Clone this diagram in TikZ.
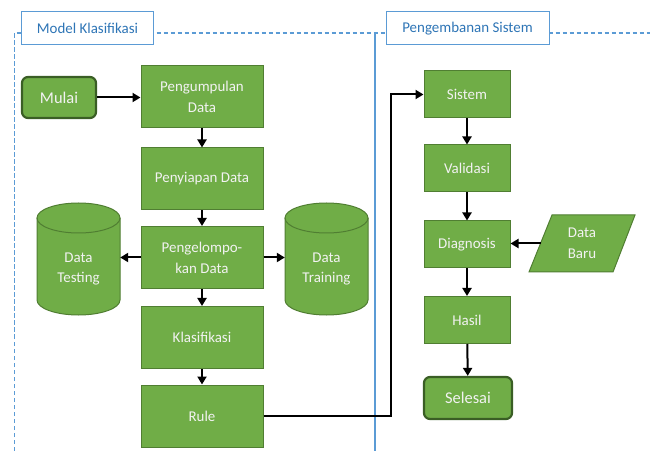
\documentclass[tikz,border=0pt]{standalone}
\usepackage{fontspec}
\setmainfont{Carlito}
\usetikzlibrary{arrows.meta}
\definecolor{boxfill}{HTML}{70AD47}
\definecolor{boxborder}{HTML}{507E32}
\definecolor{termborder}{HTML}{3A5E25}
\definecolor{boxtext}{HTML}{F2F2F2}
\definecolor{frameblue}{HTML}{5B9BD5}
\definecolor{labelblue}{HTML}{2E75B6}
\newcommand{\nodefont}{\fontsize{15}{21}\selectfont}
\newcommand{\termfont}{\fontsize{16.5}{21}\selectfont}
\tikzset{
  stepbox/.style={draw=boxborder, fill=boxfill, line width=1bp, text=boxtext, font=\nodefont,
    align=center, inner sep=0pt},
  leftbox/.style={stepbox, minimum width=122bp, minimum height=62bp},
  rightbox/.style={stepbox, minimum width=86bp, minimum height=47bp},
  term/.style={stepbox, draw=termborder, line width=2.2bp, rounded corners=6bp, font=\termfont},
  arr/.style={-{Triangle[length=8bp,width=9bp]}, line width=2bp, black},
  dashframe/.style={draw=frameblue, line width=1.5bp, dash pattern=on 4.5bp off 2.5bp},
  solidframe/.style={draw=frameblue, line width=1.5bp},
  labelbox/.style={draw=frameblue, line width=1bp, fill=white, text=labelblue, font=\nodefont,
    minimum height=33bp, inner sep=0pt},
  cylfill/.style={fill=boxfill, draw=boxborder, line width=1bp},
  cyltext/.style={text=boxtext, font=\nodefont, align=center, inner sep=0pt},
  holder/.style={inner sep=0pt, minimum width=83bp, minimum height=112bp}
}
\begin{document}
\begin{tikzpicture}[x=1bp,y=1bp]
\useasboundingbox (0,0) rectangle (650,-451);
% frame
\coordinate (ftl) at (14.5,-33);
\coordinate (fbl) at (14.5,-451);
\coordinate (ftr) at (650,-33);
\coordinate (mtop) at (375,-33);
\coordinate (mbot) at (375,-451);
\draw[dashframe] (fbl) -- (ftl) -- (ftr);
\draw[solidframe] (mtop) -- (mbot);
\node[labelbox, minimum width=131bp] (lm) at (87.5,-28.5) {Model Klasifikasi};
\node[labelbox, minimum width=163bp] (lp) at (467.5,-28.5) {Pengembanan Sistem};

% left column
\node[term, minimum width=74bp, minimum height=41bp] (mulai) at (59,-97.5) {Mulai};
\node[leftbox] (pd) at (202,-97) {Pengumpulan\\Data};
\node[leftbox] (sd) at (202,-179) {Penyiapan Data};
\node[leftbox] (pk) at (202,-257.5) {Pengelompo-\\kan Data};
\node[leftbox] (kl) at (202,-337.5) {Klasifikasi};
\node[leftbox] (ru) at (202,-416) {Rule};

% cylinders
\node[holder] (dt) at (78.5,-259) {};
\node[holder] (dtr) at (326.5,-259) {};
\foreach \cx in {78.5,326.5}{
  \fill[boxfill] (\cx-41.5,-218) -- (\cx-41.5,-300)
     arc[start angle=180,end angle=360,x radius=41.5bp,y radius=15bp]
     -- (\cx+41.5,-218) arc[start angle=0,end angle=180,x radius=41.5bp,y radius=15bp] -- cycle;
  \draw[boxborder, line width=1bp] (\cx-41.5,-218) -- (\cx-41.5,-300)
     arc[start angle=180,end angle=360,x radius=41.5bp,y radius=15bp]
     -- (\cx+41.5,-218);
  \draw[boxborder, line width=1bp] (\cx,-218) ellipse [x radius=41.5bp,y radius=15bp];
}
\node[cyltext] (dtt) at (78.5,-269) {Data\\Testing};
\node[cyltext] (dtrt) at (326.5,-269) {Data\\Training};

% right column
\node[rightbox] (sis) at (467,-94.5) {Sistem};
\node[rightbox] (val) at (467,-168.5) {Validasi};
\node[rightbox] (dg) at (467,-244.5) {Diagnosis};
\node[rightbox] (ha) at (467,-320) {Hasil};
\node[term, minimum width=88bp, minimum height=42bp] (se) at (468,-398) {Selesai};

% data baru
\draw[cylfill] (552,-215) -- (635,-215) -- (613,-272) -- (529,-272) -- cycle;
\node[cyltext] (db) at (582,-243.5) {Data\\Baru};
\coordinate (dbw) at (540.5,-243.5);

% connectors
\draw[arr] (mulai.east) -- (mulai.east -| pd.west);
\draw[arr] (pd) -- (sd);
\draw[arr] (sd) -- (pk);
\draw[arr] (pk) -- (kl);
\draw[arr] (kl) -- (ru);
\draw[arr] (pk.west) -- (pk.west -| dt.east);
\draw[arr] (pk.east) -- (pk.east -| dtr.west);
\draw[arr] (ru.east) -- ++(127,0) |- (sis.west);
\draw[arr] (sis) -- (val);
\draw[arr] (val) -- (dg);
\draw[arr] (dg) -- (ha);
\draw[arr] (ha) -- (se);
\draw[arr] (dbw) -- (dbw -| dg.east);
\end{tikzpicture}
\end{document}
